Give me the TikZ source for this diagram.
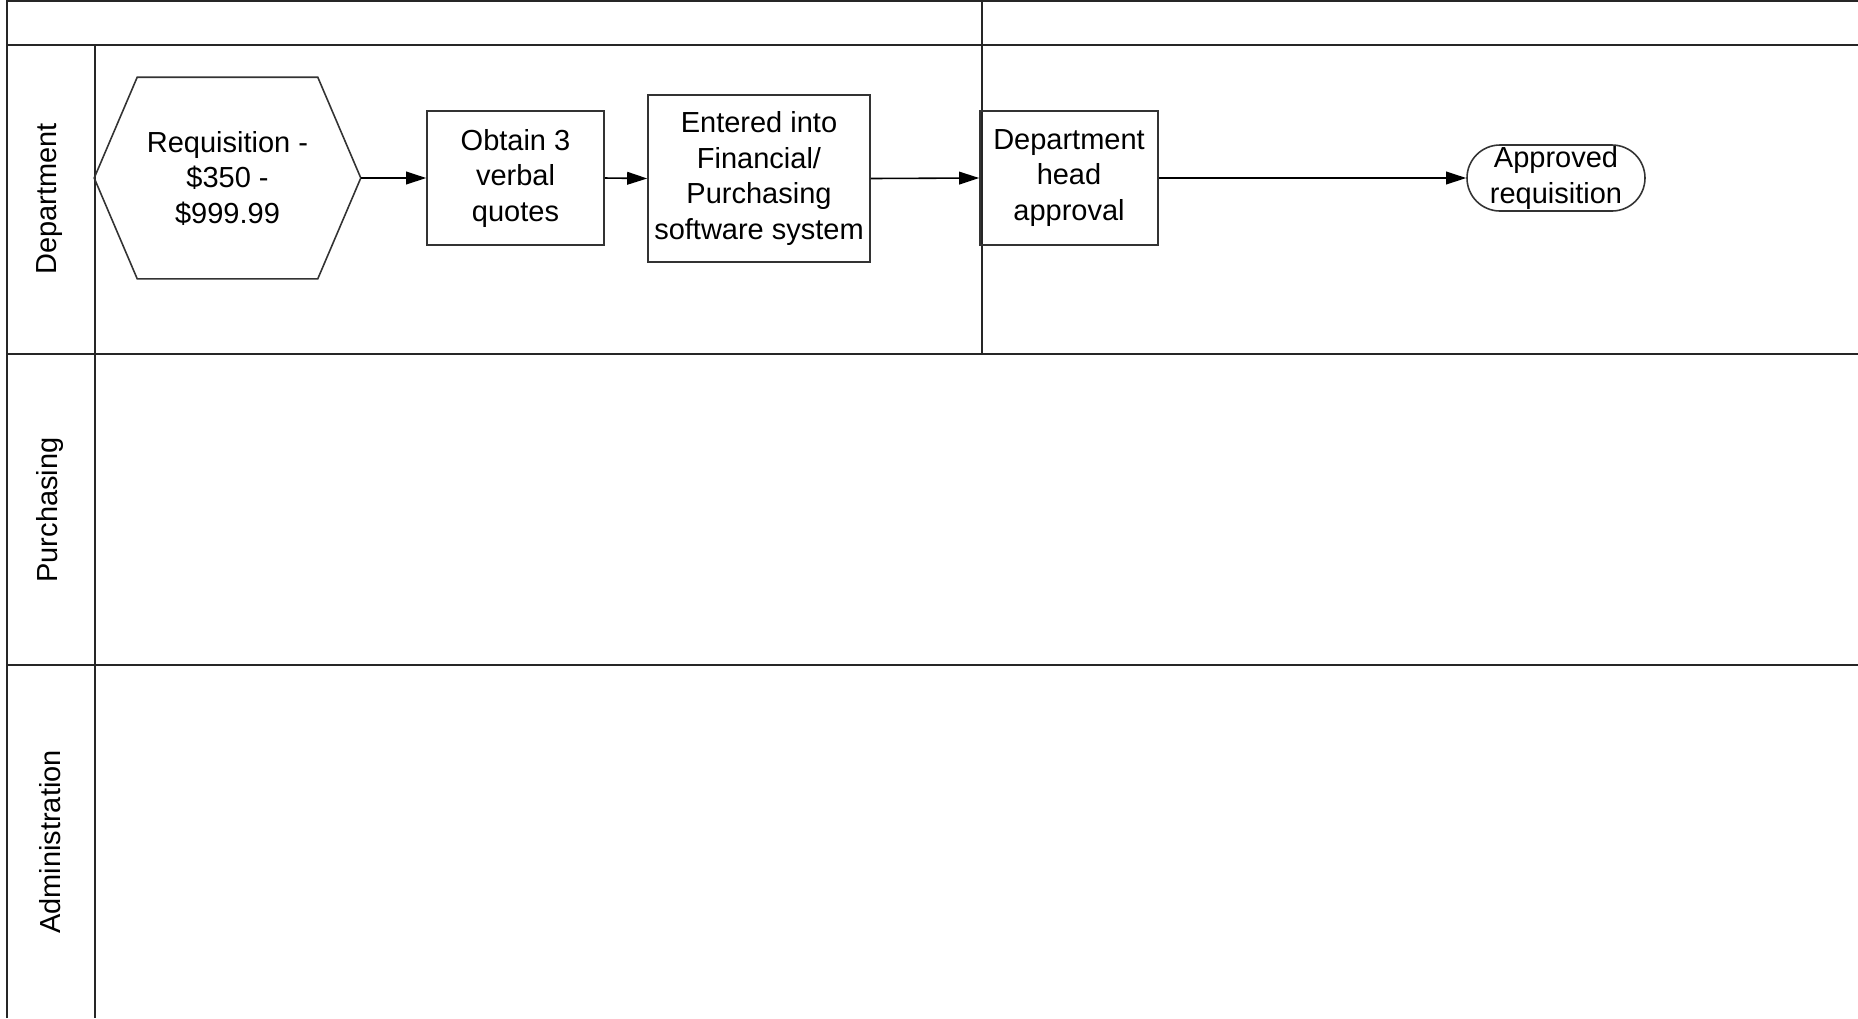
\documentclass[tikz,border=0pt]{standalone}
\usepackage{fontspec}
\setmainfont{Liberation Sans}
\usetikzlibrary{arrows.meta,shapes.misc}

\tikzset{
  lane/.style={line width=0.5pt,color=black!85},
  step box/.style={draw=black!80,line width=0.45pt,rectangle,inner sep=0pt,align=center},
  flow/.style={line width=0.45pt,-{Triangle[length=5.7pt,width=3.6pt]}},
  lane label/.style={rotate=90,inner sep=0pt}
}

\begin{document}
\begin{tikzpicture}[font=\fontsize{8.25pt}{10.1pt}\selectfont]
  \useasboundingbox (0,0) rectangle (18.58,-10.18);
  % pool frame and lanes
  \draw[lane] (0.07,-10.18)--(0.07,-0.01)--(18.58,-0.01);
  \draw[lane] (0.07,-0.45)--(18.58,-0.45);
  \draw[lane] (0.95,-0.45)--(0.95,-10.18);
  \draw[lane] (0.07,-3.54)--(18.58,-3.54);
  \draw[lane] (0.07,-6.65)--(18.58,-6.65);
  \draw[lane] (9.82,0)--(9.82,-3.54);
  \node[lane label] (lDept) at (0.50,-1.99){Department};
  \node[lane label] (lPurch) at (0.50,-5.10){Purchasing};
  \node[lane label] (lAdmin) at (0.50,-8.42){Administration};
  % process steps
  \node[step box,draw=none,minimum width=2.65cm,minimum height=2.0cm] (req) at (2.275,-1.78)
    {Requisition -\\\$350 -\\\$999.99};
  \draw[draw=black!80,line width=0.45pt] (req.west)--([xshift=0.43cm]req.north west)
    --([xshift=-0.43cm]req.north east)--(req.east)
    --([xshift=-0.43cm]req.south east)--([xshift=0.43cm]req.south west)--cycle;
  \node[step box,minimum width=1.77cm,minimum height=1.34cm] (obtain) at (5.155,-1.78)
    {Obtain 3\\verbal\\quotes};
  \node[step box,minimum width=2.22cm,minimum height=1.67cm] (entered) at (7.59,-1.785)
    {Entered into\\Financial/\\Purchasing\\software system};
  \node[step box,minimum width=1.78cm,minimum height=1.34cm] (head) at (10.69,-1.78)
    {Department\\head\\approval};
  \node[step box,rounded rectangle,minimum width=1.78cm,minimum height=0.66cm] (approved) at (15.56,-1.78)
    {Approved\\requisition};
  % connectors
  \draw[flow] (req.east)--(obtain.west);
  \draw[flow] (obtain.east)--(entered.west);
  \draw[flow] (entered.east)--(head.west);
  \draw[flow] (head.east)--(approved.west);
\end{tikzpicture}
\end{document}
